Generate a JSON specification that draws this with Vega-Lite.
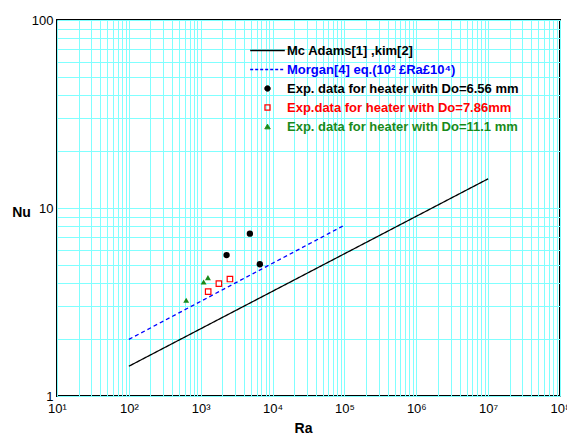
{
  "$schema": "https://vega.github.io/schema/vega-lite/v6.json",
  "autosize": {"type": "none"},
  "padding": {"left": 57, "top": 20, "right": 7, "bottom": 38},
  "width": 503,
  "height": 376,
  "background": "white",
  "config": {
    "view": {"stroke": "black", "strokeWidth": 2},
    "font": "Liberation Sans",
    "axis": {
      "gridColor": "#80ffff",
      "gridOpacity": 1,
      "gridWidth": 1,
      "ticks": false,
      "domain": false,
      "labelFont": "Liberation Sans",
      "labelFontSize": 13,
      "labelColor": "black",
      "titleFont": "Liberation Sans",
      "titleFontSize": 14,
      "titleFontWeight": "bold",
      "titleColor": "black"
    }
  },
  "data": {
    "values": [
      {"series": "Mc Adams[1] ,kim[2]", "Ra": 100, "Nu": 1.44},
      {"series": "Mc Adams[1] ,kim[2]", "Ra": 10000000, "Nu": 14.3},
      {"series": "Morgan[4] eq.(10² £Ra£10⁴)", "Ra": 100, "Nu": 2.0},
      {"series": "Morgan[4] eq.(10² £Ra£10⁴)", "Ra": 100000, "Nu": 8.1},
      {"series": "Exp. data for heater with Do=6.56 mm", "Ra": 2290, "Nu": 5.62},
      {"series": "Exp. data for heater with Do=6.56 mm", "Ra": 4830, "Nu": 7.30},
      {"series": "Exp. data for heater with Do=6.56 mm", "Ra": 6650, "Nu": 5.02},
      {"series": "Exp.data for heater with Do=7.86mm", "Ra": 1270, "Nu": 3.59},
      {"series": "Exp.data for heater with Do=7.86mm", "Ra": 1790, "Nu": 3.96},
      {"series": "Exp.data for heater with Do=7.86mm", "Ra": 2550, "Nu": 4.19},
      {"series": "Exp. data for heater with Do=11.1 mm", "Ra": 628, "Nu": 3.23},
      {"series": "Exp. data for heater with Do=11.1 mm", "Ra": 1097, "Nu": 4.04},
      {"series": "Exp. data for heater with Do=11.1 mm", "Ra": 1260, "Nu": 4.26}
    ]
  },
  "encoding": {
    "x": {
      "field": "Ra", "type": "quantitative",
      "scale": {"type": "log", "domain": [10, 100000000], "nice": false},
      "axis": {
        "title": "Ra",
        "titleAngle": 0,
        "titleX": 246,
        "titleY": 32,
        "titleBaseline": "middle",
        "titleAlign": "center",
        "labelPadding": 6,
        "labelFlush": false,
        "values": [10,20,30,40,50,60,70,80,90,100,200,300,400,500,600,700,800,900,1000,2000,3000,4000,5000,6000,7000,8000,9000,10000,20000,30000,40000,50000,60000,70000,80000,90000,100000,200000,300000,400000,500000,600000,700000,800000,900000,1000000,2000000,3000000,4000000,5000000,6000000,7000000,8000000,9000000,10000000,20000000,30000000,40000000,50000000,60000000,70000000,80000000,90000000,100000000],
        "labelExpr": "datum.value == 10 ? '10¹' : datum.value == 100 ? '10²' : datum.value == 1000 ? '10³' : datum.value == 10000 ? '10⁴' : datum.value == 100000 ? '10⁵' : datum.value == 1000000 ? '10⁶' : datum.value == 10000000 ? '10⁷' : datum.value == 100000000 ? '10⁸' : ''"
      }
    },
    "y": {
      "field": "Nu", "type": "quantitative",
      "scale": {"type": "log", "domain": [1, 100], "nice": false},
      "axis": {
        "title": "Nu",
        "titleAngle": 0,
        "titleX": -36,
        "titleY": 192,
        "titleAlign": "center",
        "titleBaseline": "middle",
        "labelPadding": 4,
        "labelFlush": false,
        "values": [1,2,3,4,5,6,7,8,9,10,20,30,40,50,60,70,80,90,100],
        "labelExpr": "datum.value == 1 ? '1' : datum.value == 10 ? '10' : datum.value == 100 ? '100' : ''"
      }
    }
  },
  "layer": [
    {
      "transform": [{"filter": "datum.series == 'Mc Adams[1] ,kim[2]' || datum.series == 'Morgan[4] eq.(10² £Ra£10⁴)'"}],
      "mark": {"type": "line", "strokeWidth": 1.3},
      "encoding": {
        "strokeDash": {
          "field": "series", "type": "nominal",
          "scale": {"domain": ["Mc Adams[1] ,kim[2]", "Morgan[4] eq.(10² £Ra£10⁴)"], "range": [[1, 0], [4, 3]]},
          "legend": null
        },
        "color": {
          "field": "series", "type": "nominal",
          "scale": {
            "domain": ["Mc Adams[1] ,kim[2]", "Morgan[4] eq.(10² £Ra£10⁴)", "Exp. data for heater with Do=6.56 mm", "Exp.data for heater with Do=7.86mm", "Exp. data for heater with Do=11.1 mm"],
            "range": ["black", "#0000ff", "black", "#ff0000", "#1a8a1a"]
          },
          "legend": {
            "title": null,
            "orient": "none",
            "legendX": 204,
            "legendY": 24,
            "padding": 0,
            "labelFont": "Liberation Sans",
            "labelFontSize": 13,
            "labelFontWeight": "bold",
            "labelLimit": 400,
            "symbolSize": 225,
            "rowPadding": 5,
            "labelOffset": 13,
            "encode": {
              "symbols": {
                "update": {
                  "shape": {"signal": "['stroke','stroke','circle','M-1,-1H1V1H-1Z M-0.6,-0.6V0.6H0.6V-0.6Z','triangle-up'][datum.index]"},
                  "size": {"signal": "[1200,1200,30,40,30][datum.index]"},
                  "strokeDash": {"signal": "datum.index == 1 ? [3,2] : [1,0]"},
                  "stroke": {"signal": "['black','#0000ff','black','#ff0000','#1a8a1a'][datum.index]"},
                  "fill": {"signal": "['transparent','transparent','black','#ff0000','#1a8a1a'][datum.index]"},
                  "fillOpacity": {"value": 1},
                  "strokeWidth": {"signal": "datum.index < 2 ? 1.3 : datum.index == 3 ? 0 : 1"}
                }
              },
              "labels": {
                "update": {
                  "fill": {"signal": "['black','#0000ff','black','#ff0000','#1a8a1a'][datum.index]"}
                }
              }
            }
          }
        }
      }
    },
    {
      "transform": [{"filter": "datum.series == 'Exp. data for heater with Do=6.56 mm'"}],
      "mark": {"type": "point", "shape": "circle", "filled": true, "size": 40, "opacity": 1},
      "encoding": {"color": {"field": "series", "type": "nominal"}}
    },
    {
      "transform": [{"filter": "datum.series == 'Exp.data for heater with Do=7.86mm'"}],
      "mark": {"type": "point", "shape": "square", "filled": false, "fill": "white", "size": 30, "strokeWidth": 1.2, "opacity": 1},
      "encoding": {"color": {"field": "series", "type": "nominal"}}
    },
    {
      "transform": [{"filter": "datum.series == 'Exp. data for heater with Do=11.1 mm'"}],
      "mark": {"type": "point", "shape": "triangle-up", "filled": true, "size": 35, "opacity": 1},
      "encoding": {"color": {"field": "series", "type": "nominal"}}
    }
  ]
}
